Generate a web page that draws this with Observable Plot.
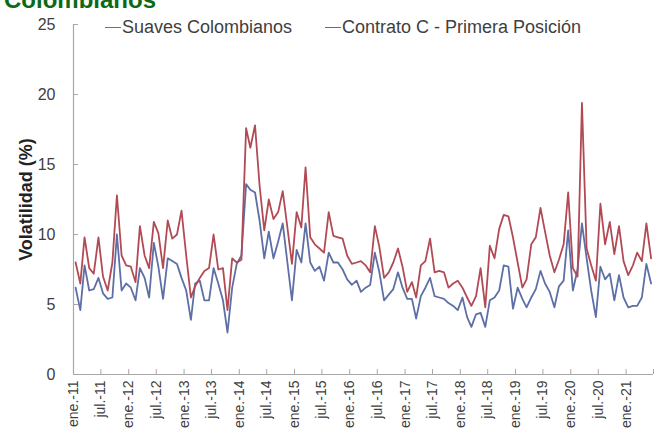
<!DOCTYPE html>
<html>
<head>
<meta charset="utf-8">
<script src="https://cdn.jsdelivr.net/npm/d3@7"></script>
<script src="https://cdn.jsdelivr.net/npm/@observablehq/plot@0.6"></script>
<style>
  body { margin: 0; background: #fff; }
  #wrap { position: relative; width: 654px; height: 435px; overflow: hidden;
          font-family: "Liberation Sans", Arial, sans-serif; }
  #title { position: absolute; left: 4px; top: -12px; font-size: 24px; line-height: 24px;
           font-weight: bold; color: #0c6a14; white-space: nowrap; }
  .key { position: absolute; top: 17px; font-size: 18px; line-height: 20px; color: #404040;
         white-space: nowrap; display: flex; align-items: center; }
  .key i { display: inline-block; width: 16px; height: 0; border-top: 1.5px solid; margin-right: 1px; }
  svg { display: block; }
</style>
</head>
<body>
<div id="wrap">
  <div id="title">Colombianos</div>
  <div id="chart"></div>
</div>
<script>
// Monthly volatility (%), January 2011 to June 2021; each value sits mid-month
const firstMonth = new Date(Date.UTC(2011, 0, 1));
const lastTick = new Date(Date.UTC(2021, 6, 1));

const seriesNames = ["Suaves Colombianos", "Contrato C - Primera Posición"];
const seriesColors = ["#5d6fa5", "#b24a55"];

const suaves = [
  6.2, 4.6, 7.8, 6.0, 6.1, 6.9, 5.8, 5.4, 5.5, 10.0, 6.0, 6.5,
  6.2, 5.3, 7.6, 6.9, 5.5, 9.4, 7.7, 5.4, 8.3, 8.1, 7.9, 6.9,
  6.0, 3.9, 6.5, 6.7, 5.3, 5.3, 7.6, 6.5, 5.3, 3.0, 6.2, 7.9,
  8.5, 13.6, 13.2, 13.0, 11.0, 8.3, 10.2, 8.3, 9.5, 10.8, 8.0, 5.3,
  8.9, 8.0, 10.8, 8.0, 7.4, 7.7, 6.7, 8.7, 8.0, 8.0, 7.5, 6.8,
  6.4, 6.7, 5.9, 6.2, 6.4, 8.7, 7.3, 5.3, 5.7, 6.1, 7.3, 6.2,
  5.4, 5.4, 4.0, 5.6, 6.2, 6.9, 5.6, 5.5, 5.4, 5.1, 4.9, 4.6,
  5.5, 4.1, 3.4, 4.3, 4.4, 3.4, 5.3, 5.5, 6.0, 7.8, 7.7, 4.7,
  6.2, 5.4, 4.8, 5.5, 6.1, 7.4, 6.5, 5.9, 4.8, 6.3, 6.7, 10.3,
  6.0, 7.5, 10.8, 8.3, 6.0, 4.1, 7.7, 6.8, 7.2, 5.3, 7.1, 5.5,
  4.8, 4.9, 4.9, 5.5, 7.9, 6.5
];

const contratoC = [
  8.0, 6.5, 9.8, 7.6, 7.2, 9.8, 7.0, 6.0, 8.0, 12.8, 8.5, 7.8,
  7.7, 6.6, 10.6, 8.5, 7.6, 10.9, 10.1, 7.6, 11.0, 9.7, 10.0, 11.7,
  8.5, 5.5, 6.3, 6.9, 7.4, 7.6, 10.0, 7.5, 7.6, 4.6, 8.3, 8.0,
  8.2, 17.6, 16.2, 17.8, 13.5, 10.3, 12.5, 11.1, 11.6, 13.1, 10.5, 7.9,
  11.6, 10.5, 14.8, 9.8, 9.3, 9.0, 8.7, 11.6, 9.9, 9.8, 9.7, 8.5,
  7.9, 8.0, 8.1, 7.8, 7.3, 10.6, 9.1, 6.9, 7.3, 8.0, 9.0, 7.7,
  5.9, 6.6, 5.5, 7.8, 8.1, 9.7, 7.3, 7.4, 7.3, 6.2, 6.5, 6.7,
  6.2, 5.5, 4.9, 5.6, 7.6, 4.8, 9.2, 8.3, 10.4, 11.4, 11.3, 9.8,
  8.0, 6.2, 6.8, 9.3, 9.8, 11.9, 10.2, 8.5, 7.3, 8.2, 9.3, 13.0,
  7.6, 7.0, 19.4, 9.0, 7.8, 6.7, 12.2, 9.3, 10.9, 8.6, 10.6, 8.1,
  7.1, 7.8, 8.7, 8.1, 10.8, 8.3
];

const yTicks = [0, 5, 10, 15, 20, 25];
const monthAbbr = {0: "ene.", 6: "jul."};
const labelLastYear = 2021; // the July 2021 tick at the right edge carries no label

const rows = suaves.map((v, i) => ({
  date: d3.utcDay.offset(d3.utcMonth.offset(firstMonth, i), 14),
  suaves: v,
  contrato: contratoC[i]
}));

const xTicks = d3.utcMonth.every(6).range(firstMonth, d3.utcDay.offset(lastTick, 1));
const fmtTick = d => {
  const y = d.getUTCFullYear(), m = d.getUTCMonth();
  if (y === labelLastYear && m === 6) return "";
  return `${monthAbbr[m]}-${String(y % 100).padStart(2, "0")}`;
};

const font = `"Liberation Sans", Arial, sans-serif`;
const axisGrey = "#a8a8a8";

const chart = Plot.plot({
  width: 654,
  height: 435,
  marginLeft: 73,
  marginRight: 1,
  marginTop: 24,
  marginBottom: 61,
  style: {fontFamily: font, color: "#404040", background: "#fff", overflow: "visible"},
  x: {type: "utc", domain: [firstMonth, lastTick]},
  y: {domain: [0, 25]},
  marks: [
    Plot.ruleX([firstMonth], {stroke: axisGrey, strokeWidth: 1.2}),
    Plot.ruleY([0], {stroke: axisGrey, strokeWidth: 1.2}),
    Plot.axisY({ticks: yTicks, tickSize: -5, tickPadding: 23, stroke: axisGrey,
                fontSize: 16, label: null}),
    Plot.axisX({ticks: xTicks, tickFormat: fmtTick, tickSize: -5, tickPadding: 11,
                tickRotate: -90, stroke: axisGrey, fontSize: 14, label: null}),
    Plot.text(["Volatilidad (%)"], {frameAnchor: "left", textAnchor: "middle", dx: -47,
                rotate: -90, fontWeight: "bold", fontSize: 18, fill: "#222"}),
    Plot.line(rows, {x: "date", y: "suaves", stroke: seriesColors[0], strokeWidth: 1.8}),
    Plot.line(rows, {x: "date", y: "contrato", stroke: seriesColors[1], strokeWidth: 1.8})
  ]
});

document.getElementById("chart").appendChild(chart);

// Legend across the top of the plot area
const keyLeft = [105, 325];
seriesNames.forEach((name, i) => {
  const el = document.createElement("div");
  el.className = "key";
  el.style.left = keyLeft[i] + "px";
  const sw = document.createElement("i");
  sw.style.borderColor = seriesColors[i];
  el.appendChild(sw);
  el.appendChild(document.createTextNode(name));
  document.getElementById("wrap").appendChild(el);
});
</script>
</body>
</html>
